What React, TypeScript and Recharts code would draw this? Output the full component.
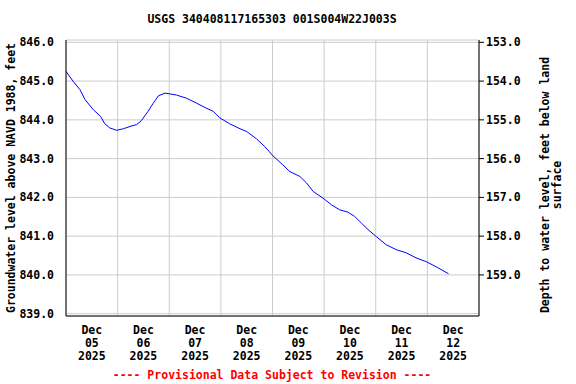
import { LineChart, Line, XAxis, YAxis, CartesianGrid, Label } from 'recharts'

// days since Dec 05 2025 00:00
const days = [
  0, 0.14, 0.27, 0.37, 0.53, 0.67, 0.75, 0.85, 0.98, 1.11, 1.24, 1.37, 1.46, 1.59, 1.69, 1.79,
  1.92, 2.14, 2.33, 2.53, 2.69, 2.85, 2.98, 3.17, 3.37, 3.5, 3.69, 3.85, 4.01, 4.2, 4.33, 4.53,
  4.66, 4.79, 4.98, 5.14, 5.3, 5.46, 5.59, 5.72, 5.85, 6.01, 6.2, 6.4, 6.59, 6.78, 6.98, 7.17, 7.41,
]
const levels = [
  845.25, 844.99, 844.78, 844.52, 844.26, 844.09, 843.9, 843.79, 843.73, 843.77, 843.83, 843.88,
  843.98, 844.22, 844.43, 844.62, 844.69, 844.64, 844.56, 844.43, 844.32, 844.22, 844.05, 843.9,
  843.77, 843.7, 843.51, 843.31, 843.07, 842.84, 842.67, 842.54, 842.37, 842.15, 841.98, 841.81,
  841.68, 841.62, 841.51, 841.34, 841.17, 840.99, 840.78, 840.65, 840.57, 840.44, 840.34, 840.21,
  840.03,
]
const dayLabels = ['05', '06', '07', '08', '09', '10', '11', '12']
const labelTicks = [0.5, 1.5, 2.5, 3.5, 4.5, 5.5, 6.5, 7.5]
const gridTicks = [1, 2, 3, 4, 5, 6, 7]
const elevTicks = [839, 840, 841, 842, 843, 844, 845, 846]
const depthTicks = [153, 154, 155, 156, 157, 158, 159]
const LAND_SURFACE = 999

const data = days.map((d, i) => ({ day: d, level: levels[i], depth: LAND_SURFACE - levels[i] }))

const FONT = '"DejaVu Sans Mono", monospace'
const textStyle = { fontFamily: FONT, fontWeight: 'bold' as const, fontSize: 11.5, fill: '#000' }

function DayTick({ x, y, payload }: any) {
  const idx = labelTicks.indexOf(payload.value)
  return (
    <text x={x} y={y} textAnchor="middle" style={textStyle}>
      <tspan x={x} dy={10}>Dec</tspan>
      <tspan x={x} dy={13}>{dayLabels[idx]}</tspan>
      <tspan x={x} dy={13}>2025</tspan>
    </text>
  )
}

export default function App() {
  return (
    <div style={{ position: 'absolute', left: 0, top: 0, width: 576, height: 384, background: '#fff' }}>
      <div
        style={{
          position: 'absolute', left: 0, width: 544, top: 12, textAlign: 'center',
          fontFamily: FONT, fontWeight: 'bold', fontSize: 11.5,
        }}
      >
        USGS 340408117165303 001S004W22J003S
      </div>
      <LineChart width={576} height={384} data={data} margin={{ top: 40, right: 0, left: 0, bottom: 0 }}>
        <CartesianGrid xAxisId="grid" yAxisId="elev" stroke="#cccccc" strokeWidth={1} />
        <XAxis xAxisId="grid" dataKey="day" type="number" domain={[0, 8]} ticks={gridTicks} height={0} hide />
        <XAxis
          xAxisId="top"
          orientation="top"
          dataKey="day"
          type="number"
          domain={[0, 8]}
          height={0}
          tick={false}
          tickLine={false}
          axisLine={{ stroke: '#000' }}
        />
        <XAxis
          xAxisId="main"
          dataKey="day"
          type="number"
          domain={[0, 8]}
          ticks={labelTicks}
          height={68}
          tickLine={false}
          axisLine={{ stroke: '#000' }}
          tick={<DayTick />}
          interval={0}
        />
        <YAxis
          yAxisId="elev"
          type="number"
          domain={[838.94, 846.06]}
          ticks={elevTicks}
          width={66}
          tickLine={false}
          axisLine={{ stroke: '#000' }}
          tickFormatter={(v: number) => v.toFixed(1)}
          tick={{ ...textStyle }}
          tickMargin={6}
        >
          <Label
            content={() => (
              <text transform="translate(15,178) rotate(-90)" textAnchor="middle" style={textStyle}>
                Groundwater level above NAVD 1988, feet
              </text>
            )}
          />
        </YAxis>
        <YAxis
          yAxisId="depth"
          orientation="right"
          type="number"
          reversed
          allowDataOverflow
          domain={[LAND_SURFACE - 846.06, LAND_SURFACE - 838.94]}
          ticks={depthTicks}
          width={97}
          tickSize={5}
          tickLine={{ stroke: '#000' }}
          axisLine={{ stroke: '#000' }}
          tickFormatter={(v: number) => v.toFixed(1)}
          tick={{ ...textStyle }}
          tickMargin={2}
        >
          <Label
            content={() => (
              <text transform="translate(549,185) rotate(-90)" textAnchor="middle" style={textStyle}>
                <tspan x={0} dy={0}>Depth to water level, feet below land</tspan>
                <tspan x={0} dy={12}>surface</tspan>
              </text>
            )}
          />
        </YAxis>
        <Line
          xAxisId="main"
          yAxisId="depth"
          type="linear"
          dataKey="depth"
          stroke="none"
          dot={false}
          isAnimationActive={false}
        />
        <Line
          xAxisId="main"
          yAxisId="elev"
          type="linear"
          dataKey="level"
          stroke="#0000ff"
          strokeWidth={1}
          dot={false}
          isAnimationActive={false}
        />
      </LineChart>
      <div
        style={{
          position: 'absolute', left: 0, width: 544, top: 368, textAlign: 'center',
          fontFamily: FONT, fontWeight: 'bold', fontSize: 11.5, color: '#ff0000',
        }}
      >
        ---- Provisional Data Subject to Revision ----
      </div>
    </div>
  )
}
